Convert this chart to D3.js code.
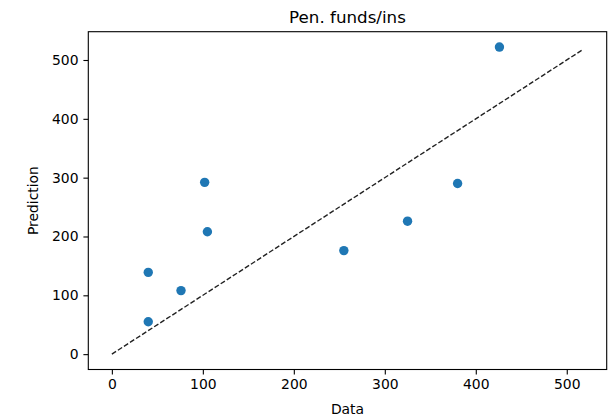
<!DOCTYPE html>
<html>
<head>
<meta charset="utf-8">
<script src="https://cdn.jsdelivr.net/npm/d3@7"></script>
<style>
  body { margin: 0; background: #fff; }
  svg text { font-family: "DejaVu Sans", sans-serif; fill: #000; }
</style>
</head>
<body>
<div id="chart"></div>
<script>
// dữ liệu
const dataVals = [40, 40, 76, 102, 105, 255, 325, 380, 426];
const predVals = [139, 55, 108, 292, 208, 176, 226, 290, 522];
const lineEnds = [0, 518];
const xTicks = [0, 100, 200, 300, 400, 500];
const yTicks = [0, 100, 200, 300, 400, 500];
const title = "Pen. funds/ins";

const width = 612, height = 420;
const box = { left: 88.3, right: 606.7, top: 31.7, bottom: 369.5 };

// lề 5% kiểu matplotlib
function padded(ext) {
  const p = (ext[1] - ext[0]) * 0.05;
  return [ext[0] - p, ext[1] + p];
}
const xExt = d3.extent(dataVals.concat(lineEnds));
const yExt = d3.extent(predVals.concat(lineEnds));

const x = d3.scaleLinear().domain(padded(xExt)).range([box.left, box.right]);
const y = d3.scaleLinear().domain(padded(yExt)).range([box.bottom, box.top]);

const svg = d3.select("#chart").append("svg")
  .attr("width", width)
  .attr("height", height);

// đường chéo y = x
svg.append("line")
  .attr("x1", x(lineEnds[0])).attr("y1", y(lineEnds[0]))
  .attr("x2", x(lineEnds[1])).attr("y2", y(lineEnds[1]))
  .attr("stroke", "#222")
  .attr("stroke-width", 1.4)
  .attr("stroke-dasharray", "5,2.2");

// điểm
const pts = dataVals.map((d, i) => ({ x: d, y: predVals[i] }));
svg.selectAll(".dot")
  .data(pts)
  .enter().append("circle")
    .attr("class", "dot")
    .attr("cx", d => x(d.x))
    .attr("cy", d => y(d.y))
    .attr("r", 4.7)
    .attr("fill", "#1f77b4");

// trục
const gx = svg.append("g")
  .attr("transform", `translate(0,${box.bottom})`)
  .call(d3.axisBottom(x).tickValues(xTicks).tickSize(4.9).tickPadding(4.9).tickSizeOuter(0));
const gy = svg.append("g")
  .attr("transform", `translate(${box.left},0)`)
  .call(d3.axisLeft(y).tickValues(yTicks).tickSize(4.9).tickPadding(4.9).tickSizeOuter(0));

[gx, gy].forEach(g => {
  g.select(".domain").remove();
  g.selectAll("line").attr("stroke", "#000").attr("stroke-width", 1.1);
  g.selectAll("text").style("font-size", "13.9px").style("font-family", "DejaVu Sans").attr("fill", "#000");
});

// khung
svg.append("rect")
  .attr("x", box.left).attr("y", box.top)
  .attr("width", box.right - box.left)
  .attr("height", box.bottom - box.top)
  .attr("fill", "none")
  .attr("stroke", "#000")
  .attr("stroke-width", 1.1);

// nhãn
svg.append("text")
  .attr("x", (box.left + box.right) / 2)
  .attr("y", 23.4)
  .attr("text-anchor", "middle")
  .style("font-size", "16.7px")
  .text(title);

svg.append("text")
  .attr("x", (box.left + box.right) / 2)
  .attr("y", 414)
  .attr("text-anchor", "middle")
  .style("font-size", "13.9px")
  .text("Data");

svg.append("text")
  .attr("transform", `translate(38,${(box.top + box.bottom) / 2}) rotate(-90)`)
  .attr("text-anchor", "middle")
  .style("font-size", "13.9px")
  .text("Prediction");
</script>
</body>
</html>
